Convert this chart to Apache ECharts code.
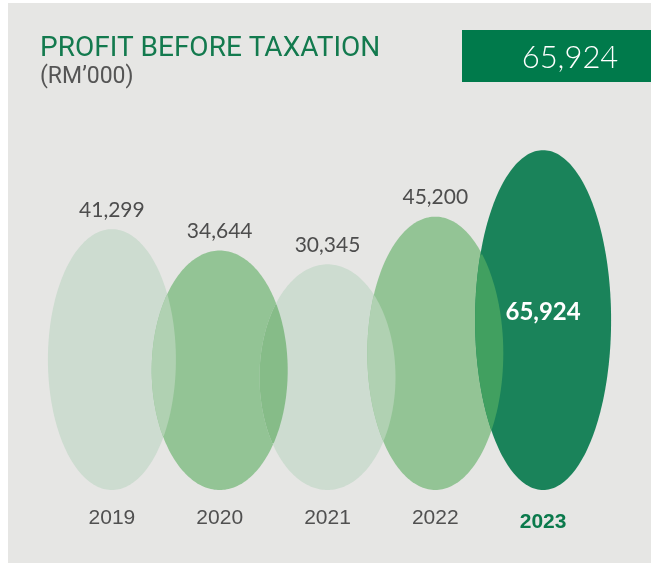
<!DOCTYPE html>
<html>
<head>
<meta charset="utf-8">
<script src="https://cdn.jsdelivr.net/npm/echarts@6/dist/echarts.min.js"></script>
<style>
html,body{margin:0;padding:0;background:#ffffff;}
#chart{width:651px;height:563px;}
</style>
</head>
<body>
<div id="chart"></div>
<script>
// ---- data ----
const categories = ['2019', '2020', '2021', '2022', '2023'];
const values = [41299, 34644, 30345, 45200, 65924];
const valueLabels = ['41,299', '34,644', '30,345', '45,200', '65,924'];
const titleText = 'PROFIT BEFORE TAXATION';
const unitText = '(RM\u2019000)';
const highlightText = '65,924';

// ---- styles ----
const Y_MIN = -40000, Y_MAX = 80000;
const RX = [64, 68, 68, 68, 68];
const FILLS = ['#cddcd0', '#93c495', '#cddcd0', '#93c495', '#1a835a'];
const LENS_FILLS = ['#b0d1b2', '#86bc88', '#b0d1b2', '#41a060'];
const NPTS = 240;

function geom(api, i, v) {
  const c = api.coord([i, v]);
  const b = api.coord([i, Y_MIN]);
  const top = c[1], bot = b[1];
  return {cx: c[0], cy: (top + bot) / 2, rx: RX[i], ry: (bot - top) / 2, top: top};
}
function ellipsePts(g) {
  const pts = [];
  for (let k = 0; k < NPTS; k++) {
    const t = k / NPTS * Math.PI * 2;
    pts.push([g.cx + g.rx * Math.cos(t), g.cy + g.ry * Math.sin(t)]);
  }
  return pts;
}
function inside(p, g) {
  const dx = (p[0] - g.cx) / g.rx, dy = (p[1] - g.cy) / g.ry;
  return dx * dx + dy * dy <= 1;
}

const chart = echarts.init(document.getElementById('chart'), null, {renderer: 'canvas'});

const option = {
  animation: false,
  backgroundColor: '#ffffff',
  graphic: [
    {type: 'rect', z: -10, shape: {x: 8, y: 3, width: 643, height: 560}, style: {fill: '#e6e6e4'}},
    {type: 'text', left: 40, top: 35, style: {text: titleText, fill: '#137a4e', font: '28px Roboto'}},
    {type: 'text', left: 40, top: 66, style: {text: unitText, fill: '#555555', font: '23px Roboto'}},
    {type: 'rect', shape: {x: 462, y: 30, width: 189, height: 52}, style: {fill: '#007a4b'}},
    {type: 'text', x: 570, y: 58, style: {text: highlightText, fill: '#ffffff', font: '300 31px Lato', align: 'center', verticalAlign: 'middle'}}
  ],
  grid: {left: 58, width: 539, top: 105, height: 385},
  xAxis: {
    type: 'category',
    data: categories,
    axisLine: {show: false},
    axisTick: {show: false},
    axisLabel: {
      margin: 18,
      formatter: function (v, idx) { return idx === 4 ? '{b|' + v + '}' : '{n|' + v + '}'; },
      rich: {
        n: {fontFamily: 'Liberation Sans', fontSize: 21, color: '#505050'},
        b: {fontFamily: 'Liberation Sans', fontSize: 21, fontWeight: 'bold', color: '#0b7a4c', padding: [4, 0, 0, 0]}
      }
    }
  },
  yAxis: {type: 'value', min: Y_MIN, max: Y_MAX, show: false, splitLine: {show: false}},
  series: [
    {
      type: 'custom',
      z: 2,
      data: values.map((v, i) => [i, v]),
      renderItem: function (params, api) {
        const i = api.value(0), v = api.value(1);
        const g = geom(api, i, v);
        return {type: 'polygon', shape: {points: ellipsePts(g)}, style: {fill: FILLS[i]}};
      }
    },
    {
      type: 'custom',
      z: 3,
      data: values.slice(0, -1).map((v, i) => [i, v, values[i + 1]]),
      renderItem: function (params, api) {
        const i = api.value(0);
        const g1 = geom(api, i, api.value(1));
        const g2 = geom(api, i + 1, api.value(2));
        const pts = ellipsePts(g1).filter(p => inside(p, g2)).concat(ellipsePts(g2).filter(p => inside(p, g1)));
        if (pts.length < 3) return null;
        let mx = 0, my = 0;
        pts.forEach(p => { mx += p[0]; my += p[1]; });
        mx /= pts.length; my /= pts.length;
        pts.sort((a, b) => Math.atan2(a[1] - my, a[0] - mx) - Math.atan2(b[1] - my, b[0] - mx));
        return {type: 'polygon', shape: {points: pts}, style: {fill: LENS_FILLS[i]}};
      }
    },
    {
      type: 'custom',
      z: 4,
      data: values.map((v, i) => [i, v]),
      renderItem: function (params, api) {
        const i = api.value(0), v = api.value(1);
        const g = geom(api, i, v);
        if (i === values.length - 1) {
          return {type: 'text', x: g.cx, y: g.cy - 8, style: {text: valueLabels[i], fill: '#ffffff', font: 'bold 24px Lato', align: 'center', verticalAlign: 'middle'}};
        }
        return {type: 'text', x: g.cx, y: g.top - 19, style: {text: valueLabels[i], fill: '#4d4d4d', font: '21px Lato', align: 'center', verticalAlign: 'middle'}};
      }
    }
  ]
};
chart.setOption(option);
</script>
</body>
</html>
